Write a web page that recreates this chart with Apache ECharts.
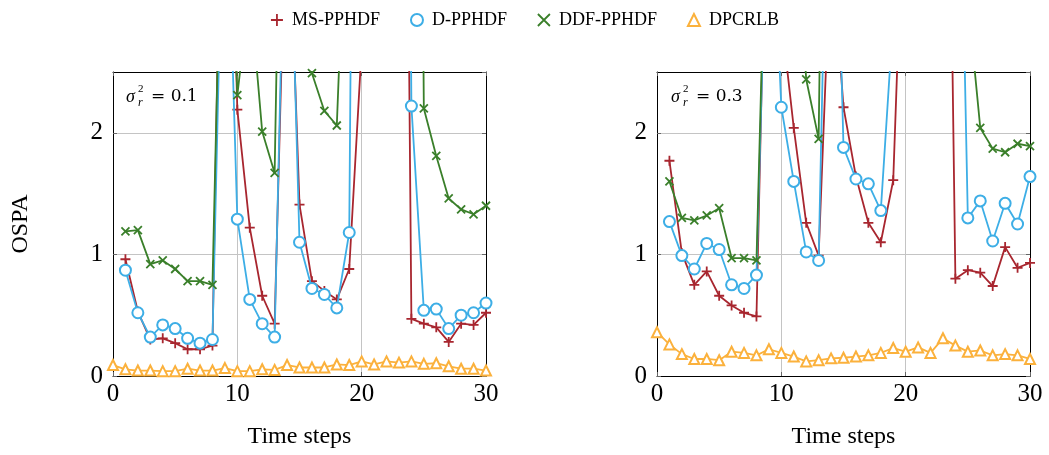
<!DOCTYPE html>
<html>
<head>
<meta charset="utf-8">
<script src="https://cdn.jsdelivr.net/npm/echarts@6/dist/echarts.min.js"></script>
<style>
html,body{margin:0;padding:0;background:#fff;}
#chart{width:1049px;height:455px;}
</style>
</head>
<body>
<div id="chart"></div>
<script>
// ---------------- data ----------------
const timeSteps = [0,1,2,3,4,5,6,7,8,9,10,11,12,13,14,15,16,17,18,19,20,21,22,23,24,25,26,27,28,29,30];
const seriesNames = ['MS-PPHDF', 'D-PPHDF', 'DDF-PPHDF', 'DPCRLB'];
const xTicks = [0, 10, 20, 30];
const yTicks = [0, 1, 2];
const panelLabels = ['0.1', '0.3'];

// left panel (sigma_r^2 = 0.1); values above 2.5 run off the top of the axis
const msLeft  = [null,0.96,0.53,0.30,0.31,0.27,0.22,0.22,0.25,6.0,2.19,1.22,0.66,0.43,4.3,1.41,0.78,0.70,0.63,0.88,2.7,5.2,8.1,12.0,0.47,0.43,0.40,0.28,0.43,0.42,0.52];
const dLeft   = [null,0.87,0.52,0.32,0.42,0.39,0.31,0.27,0.30,4.7,1.29,0.63,0.43,0.32,4.8,1.10,0.72,0.67,0.56,1.18,14.0,13.5,15.2,16.0,2.22,0.54,0.55,0.39,0.50,0.52,0.60];
const ddfLeft = [null,1.19,1.20,0.92,0.95,0.88,0.78,0.78,0.75,5.2,2.31,3.2,2.01,1.67,7.4,6.0,2.49,2.18,2.06,4.7,8.3,10.1,12.4,13.8,15.5,2.20,1.81,1.46,1.37,1.33,1.40];
const dpLeft  = [0.09,0.055,0.045,0.045,0.04,0.04,0.06,0.045,0.045,0.065,0.04,0.04,0.055,0.05,0.09,0.07,0.07,0.07,0.095,0.09,0.12,0.095,0.12,0.11,0.12,0.10,0.105,0.08,0.06,0.06,0.045];

// right panel (sigma_r^2 = 0.3)
const msRight  = [null,1.77,1.01,0.75,0.86,0.66,0.58,0.52,0.49,5.0,2.95,2.04,1.26,0.99,3.6,2.21,1.64,1.26,1.10,1.61,4.5,7.2,9.1,8.2,0.80,0.87,0.85,0.74,1.06,0.89,0.93];
const dRight   = [null,1.27,0.99,0.88,1.09,1.04,0.75,0.72,0.83,4.5,2.21,1.60,1.02,0.95,5.75,1.88,1.62,1.58,1.36,2.95,8.1,10.3,9.7,10.6,6.3,1.30,1.44,1.11,1.42,1.25,1.64];
const ddfRight = [null,1.60,1.30,1.28,1.32,1.38,0.97,0.97,0.95,4.8,6.0,4.0,2.44,1.95,9.6,11.2,10.4,12.1,9.8,10.7,11.5,10.2,12.3,11.0,9.9,3.1,2.04,1.87,1.84,1.91,1.89];
const dpRight  = [0.36,0.26,0.18,0.14,0.14,0.13,0.20,0.19,0.17,0.22,0.19,0.16,0.12,0.13,0.145,0.15,0.16,0.17,0.19,0.23,0.20,0.235,0.19,0.31,0.25,0.20,0.21,0.17,0.18,0.17,0.14];

// ---------------- style ----------------
const FONT = 'Liberation Serif';
const colors = ['#a8262f', '#3daee6', '#3a7f2a', '#fbb13c'];
const plusPath = 'path://M0,-5 L0,5 M-5,0 L5,0';
const crossPath = 'path://M-5,-5 L5,5 M-5,5 L5,-5';
const symbols = [plusPath, 'emptyCircle', crossPath, 'emptyTriangle'];
const symbolSizes = [10, 11, 8, 10];

function pairs(vals) { return timeSteps.map((t, i) => [t, vals[i]]); }

const panels = [
  { left: 113, vals: [msLeft, dLeft, ddfLeft, dpLeft] },
  { left: 657, vals: [msRight, dRight, ddfRight, dpRight] }
];

const grids = panels.map(p => ({
  left: p.left, top: 72, width: 373, height: 304, containLabel: false
}));

const gridLine = { show: true, lineStyle: { color: '#c4c4c4', width: 1 } };
const frameLine = { show: true, onZero: false, lineStyle: { color: '#000', width: 1 } };
const tickStyle = { show: true, inside: true, length: 4, lineStyle: { color: '#666' } };

const xAxes = [];
const yAxes = [];
panels.forEach((p, i) => {
  xAxes.push({
    type: 'value', gridIndex: i, min: 0, max: 30, interval: 10, position: 'bottom',
    name: 'Time steps', nameLocation: 'middle', nameGap: 49,
    nameTextStyle: { fontFamily: FONT, fontSize: 24, color: '#000' },
    axisLine: frameLine, axisTick: tickStyle,
    axisLabel: { fontFamily: FONT, fontSize: 25, color: '#000', margin: 6,
                 formatter: v => xTicks.includes(v) ? String(v) : '' },
    splitLine: gridLine
  });
  yAxes.push({
    type: 'value', gridIndex: i, min: 0, max: 2.5, interval: 1, position: 'left',
    name: i === 0 ? 'OSPA' : '', nameLocation: 'middle', nameGap: 80, nameRotate: 90,
    nameTextStyle: { fontFamily: FONT, fontSize: 24, color: '#000' },
    axisLine: frameLine, axisTick: tickStyle,
    axisLabel: { fontFamily: FONT, fontSize: 25, color: '#000', margin: 10, showMaxLabel: false,
                 formatter: v => yTicks.includes(v) ? String(v) : '' },
    splitLine: gridLine
  });
});
// frame: top and right axes (no labels)
panels.forEach((p, i) => {
  xAxes.push({
    type: 'value', gridIndex: i, min: 0, max: 30, interval: 10, position: 'top',
    axisLine: frameLine, axisTick: tickStyle, axisLabel: { show: false }, splitLine: { show: false }
  });
  yAxes.push({
    type: 'value', gridIndex: i, min: 0, max: 2.5, interval: 1, position: 'right',
    axisLine: frameLine, axisTick: tickStyle, axisLabel: { show: false }, splitLine: { show: false }
  });
});

const series = [];
panels.forEach((p, pi) => {
  p.vals.forEach((vals, si) => {
    series.push({
      name: seriesNames[si], type: 'line', xAxisIndex: pi, yAxisIndex: pi,
      data: pairs(vals), clip: true, showAllSymbol: true,
      symbol: symbols[si], symbolSize: symbolSizes[si],
      lineStyle: { color: colors[si], width: 1.8 },
      itemStyle: { color: colors[si], borderColor: colors[si], borderWidth: 1.8 },
      emphasis: { disabled: true },
      animation: false, z: 2 + si
    });
  });
});

function sigmaLabel(x, val) {
  return {
    type: 'group', left: x, top: 84, children: [
      { type: 'text', x: 0, y: 4, style: { text: 'σ', font: 'italic 18px "' + FONT + '"', fill: '#000' } },
      { type: 'text', x: 12, y: 0, style: { text: '2', font: '11px "' + FONT + '"', fill: '#000' } },
      { type: 'text', x: 12, y: 13, style: { text: 'r', font: 'italic 12px "' + FONT + '"', fill: '#000' } },
      { type: 'text', x: 25, y: 4, style: { text: '= ' + val, font: '17px "DejaVu Serif"', fill: '#000' } }
    ]
  };
}

const chart = echarts.init(document.getElementById('chart'), null, { renderer: 'canvas' });
chart.setOption({
  animation: false,
  backgroundColor: '#fff',
  legend: {
    top: 6, left: 'center', itemGap: 30, itemWidth: 12, itemHeight: 12,
    textStyle: { fontFamily: FONT, fontSize: 18, color: '#000', padding: [0, 0, 0, 4] },
    data: seriesNames.map((n, i) => ({ name: n, icon: symbols[i] })),
    itemStyle: { borderWidth: 1.8 }
  },
  grid: grids,
  xAxis: xAxes,
  yAxis: yAxes,
  series: series,
  graphic: [sigmaLabel(126, panelLabels[0]), sigmaLabel(671, panelLabels[1])]
});
</script>
</body>
</html>
